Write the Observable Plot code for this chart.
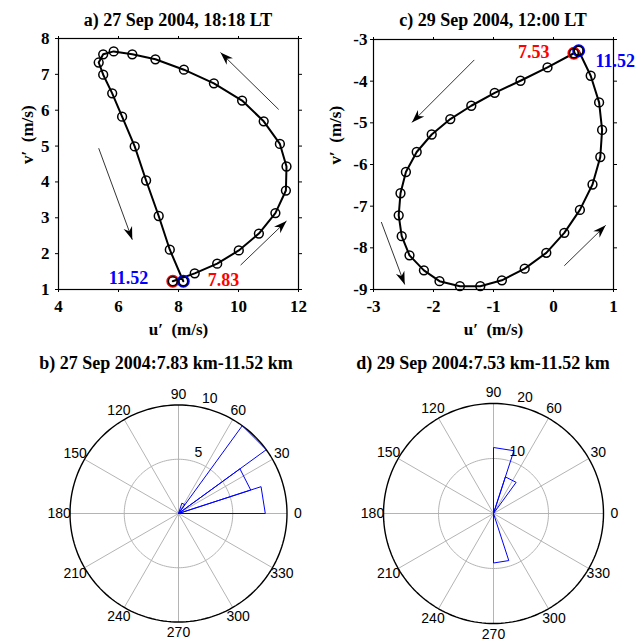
<!DOCTYPE html>
<html><head><meta charset="utf-8">
<script src="https://cdn.jsdelivr.net/npm/d3@7"></script>
<script src="https://cdn.jsdelivr.net/npm/@observablehq/plot@0.6"></script>
<style>
body{margin:0;background:#fff;}
#wrap{position:relative;width:643px;height:641px;overflow:hidden;background:#fff;}
.panel{position:absolute;}
.title{position:absolute;font-family:"Liberation Serif",serif;font-weight:bold;font-size:18px;white-space:nowrap;transform:translate(-50%,-50%);color:#000;}
.hodo [aria-label$="tick label"], .hodo [aria-label$="tick label"] text{font-family:"Liberation Serif",serif !important;font-weight:bold !important;font-size:17px !important;font-variant:normal !important;}
</style></head><body><div id="wrap"></div>
<script>
// ---------- data ----------
const titles = ["a) 27 Sep 2004, 18:18 LT", "c) 29 Sep 2004, 12:00 LT",
                "b) 27 Sep 2004:7.83 km-11.52 km", "d) 29 Sep 2004:7.53 km-11.52 km"];
const xLabel = "u′\u00a0\u00a0(m/s)";
const yLabel = "v′\u00a0\u00a0(m/s)";

// panel a hodograph (27 Sep)
const uA = [7.81, 8.54, 9.29, 10.01, 10.68, 11.23, 11.58, 11.60, 11.38, 10.84, 10.12, 9.18, 8.18, 7.23, 6.46, 5.84, 5.49, 5.34, 5.49, 5.79, 6.12, 6.54, 6.92, 7.34, 7.71, 8.16];
const vA = [1.23, 1.45, 1.72, 2.09, 2.56, 3.13, 3.76, 4.43, 5.06, 5.69, 6.27, 6.75, 7.13, 7.42, 7.56, 7.64, 7.56, 7.33, 6.99, 6.47, 5.82, 4.99, 4.04, 3.05, 2.11, 1.23];
const xTicksA = [4, 6, 8, 10, 12];
const yTicksA = [1, 2, 3, 4, 5, 6, 7, 8];
const arrowsA = [[11.34, 6.02, 9.40, 7.61], [5.34, 4.94, 6.46, 2.39], [10.07, 1.68, 11.60, 2.91]];
const labelsA = [{t: "11.52", u: 6.33, v: 1.32, c: "#0000ff"}, {t: "7.83", u: 9.50, v: 1.27, c: "#ff0000"}];

// panel c hodograph (29 Sep)
const uC = [0.34, -0.10, -0.55, -0.98, -1.37, -1.72, -2.03, -2.28, -2.46, -2.55, -2.58, -2.53, -2.40, -2.16, -1.90, -1.56, -1.22, -0.86, -0.48, -0.12, 0.18, 0.44, 0.65, 0.78, 0.81, 0.76, 0.62, 0.42];
const vC = [-3.33, -3.67, -3.99, -4.28, -4.59, -4.91, -5.28, -5.70, -6.18, -6.69, -7.22, -7.72, -8.18, -8.54, -8.80, -8.92, -8.92, -8.78, -8.50, -8.12, -7.64, -7.09, -6.48, -5.82, -5.17, -4.51, -3.87, -3.27];
const xTicksC = [-3, -2, -1, 0, 1];
const yTicksC = [-9, -8, -7, -6, -5, -4, -3];
const arrowsC = [[-1.32, -3.49, -2.36, -4.99], [-2.87, -7.38, -2.48, -8.88], [0.18, -8.43, 0.87, -7.46]];
const labelsC = [{t: "7.53", u: -0.33, v: -3.31, c: "#ff0000"}, {t: "11.52", u: 1.03, v: -3.53, c: "#0000ff"}];

// rose histograms: counts in 20 bins of 18 degrees
const roseB = [8, 7, 10, 1, 0, 0, 0, 0, 0, 0, 0, 0, 0, 0, 0, 0, 0, 0, 0, 0];
const roseD = [0, 0, 0, 7, 12, 0, 0, 0, 0, 0, 0, 0, 0, 0, 0, 9, 0, 0, 0, 0];
const angleTicks = [0, 30, 60, 90, 120, 150, 180, 210, 240, 270, 300, 330];

// ---------- helpers ----------
const wrap = document.getElementById("wrap");
function place(el, left, top, cls) { el.classList.add("panel"); if (cls) el.classList.add(cls); el.style.left = left + "px"; el.style.top = top + "px"; wrap.appendChild(el); }
function title(text, cx, cy) { const d = document.createElement("div"); d.className = "title"; d.textContent = text; d.style.left = cx + "px"; d.style.top = cy + "px"; wrap.appendChild(d); }

const arrowHead = {draw(ctx) { ctx.moveTo(0, 0); ctx.lineTo(-4.5, 13); ctx.lineTo(0, 9); ctx.lineTo(4.5, 13); ctx.closePath(); }};
const serif = "Liberation Serif, Times New Roman, serif";
const bold = {fontSize: 17, fontWeight: "bold", fontFamily: serif};

function hodo(o) {
  const pts = o.u.map((d, i) => ({u: d, v: o.v[i]}));
  const kx = (o.width - o.ml - o.mr) / (o.xd[1] - o.xd[0]);
  const ky = (o.height - o.mt - o.mb) / (o.yd[1] - o.yd[0]);
  const links = o.arrows.map(a => ({x1: a[0], y1: a[1], x2: a[2], y2: a[3]}));
  const heads = o.arrows.map(a => ({u: a[2], v: a[3], rot: Math.atan2((a[2] - a[0]) * kx, (a[3] - a[1]) * ky) * 180 / Math.PI}));
  return Plot.plot({
    width: o.width, height: o.height,
    marginLeft: o.ml, marginRight: o.mr, marginTop: o.mt, marginBottom: o.mb,
    x: {domain: o.xd}, y: {domain: o.yd},
    style: {fontFamily: serif, fontSize: "17px", fontWeight: "bold", background: "transparent", overflow: "visible", color: "black"},
    marks: [
      Plot.axisX({anchor: "bottom", ticks: o.xt, tickSize: 3, tickPadding: 7, tickFormat: d => String(d), label: null, ...bold}),
      Plot.axisX({anchor: "top", ticks: o.xt, tickSize: 3, tickFormat: () => "", label: null}),
      Plot.axisY({anchor: "left", ticks: o.yt, tickSize: 3, tickPadding: o.yPad, tickFormat: d => String(d), label: null, ...bold}),
      Plot.axisY({anchor: "right", ticks: o.yt, tickSize: 3, tickFormat: () => "", label: null}),
      Plot.frame({stroke: "black", strokeWidth: 1.2}),
      Plot.link(links, {x1: "x1", y1: "y1", x2: "x2", y2: "y2", stroke: "black", strokeWidth: 0.8}),
      Plot.dot(heads, {x: "u", y: "v", rotate: "rot", symbol: arrowHead, r: 5, fill: "black", stroke: "none"}),
      Plot.line(pts, {x: "u", y: "v", stroke: "black", strokeWidth: 2}),
      Plot.dot([pts[0]], {x: "u", y: "v", r: 5.2, stroke: "#ff0000", strokeWidth: 2.6, fill: "none"}),
      Plot.dot([pts[pts.length - 1]], {x: "u", y: "v", r: 5.2, stroke: "#0000ff", strokeWidth: 2.6, fill: "none"}),
      Plot.dot(pts, {x: "u", y: "v", r: 4.4, stroke: "black", strokeWidth: 1.5, fill: "none"}),
      Plot.text(o.labels, {x: "u", y: "v", text: "t", fill: "c", ...bold, fontSize: 18}),
      Plot.text([xLabel], {frameAnchor: "bottom", dy: 45, ...bold}),
      Plot.text([yLabel], {frameAnchor: "left", dx: -o.ylx, rotate: -90, ...bold})
    ]
  });
}

function rose(o) {
  const rmax = o.rmax, rinc = o.rinc, rad = Math.PI / 180;
  const circle = (r) => d3.range(0, 361, 2).map(a => ({x: r * Math.cos(a * rad), y: r * Math.sin(a * rad)}));
  const inner = d3.range(rinc, rmax, rinc).flatMap((r, k) => circle(r).map(p => ({...p, k})));
  const spokes = angleTicks.filter(a => a < 180).map(a => ({x1: -rmax * Math.cos(a * rad), y1: -rmax * Math.sin(a * rad), x2: rmax * Math.cos(a * rad), y2: rmax * Math.sin(a * rad)}));
  const alabels = angleTicks.map(a => ({x: 1.1 * rmax * Math.cos(a * rad), y: 1.1 * rmax * Math.sin(a * rad), t: String(a)}));
  const rlabels = d3.range(rinc, rmax + 1e-9, rinc).map(r => ({x: (r + rinc / 20) * Math.cos(82 * rad), y: (r + rinc / 20) * Math.sin(82 * rad), t: String(r)}));
  const step = 360 / o.bins.length;
  const wedges = o.bins.flatMap((c, i) => c > 0 ? [
    {x: 0, y: 0, i},
    {x: c * Math.cos(i * step * rad), y: c * Math.sin(i * step * rad), i},
    {x: c * Math.cos((i + 1) * step * rad), y: c * Math.sin((i + 1) * step * rad), i},
    {x: 0, y: 0, i}] : []);
  return Plot.plot({
    width: o.width, height: o.height, axis: null,
    x: {domain: [-rmax, rmax], range: [o.cx - o.R, o.cx + o.R]},
    y: {domain: [-rmax, rmax], range: [o.cy + o.R, o.cy - o.R]},
    style: {fontFamily: "Liberation Sans, Arial, sans-serif", fontSize: "14px", background: "transparent", overflow: "visible"},
    marks: [
      Plot.link(spokes, {x1: "x1", y1: "y1", x2: "x2", y2: "y2", stroke: "#b4b4b4", strokeWidth: 1}),
      Plot.line(inner, {x: "x", y: "y", z: "k", stroke: "#b4b4b4", strokeWidth: 1}),
      Plot.line(circle(rmax), {x: "x", y: "y", stroke: "black", strokeWidth: 1.4}),
      Plot.line(wedges, {x: "x", y: "y", z: "i", stroke: "#0000ff", strokeWidth: 1}),
      Plot.text(alabels, {x: "x", y: "y", text: "t", fontSize: 14, fill: "black"}),
      Plot.text(rlabels, {x: "x", y: "y", text: "t", fontSize: 14, textAnchor: "start", lineAnchor: "bottom", dx: 8, fill: "black"})
    ]
  });
}

// ---------- panels ----------
place(hodo({u: uA, v: vA, xd: [4, 12], yd: [1, 8], xt: xTicksA, yt: yTicksA, width: 320, height: 345, ml: 58, mr: 22, mt: 38, mb: 56, yPad: 6, ylx: 31, arrows: arrowsA, labels: labelsA}), 0, 0, "hodo");
place(hodo({u: uC, v: vC, xd: [-3, 1], yd: [-9, -3], xt: xTicksC, yt: yTicksC, width: 323, height: 345, ml: 53, mr: 30, mt: 39, mb: 56, yPad: 3, ylx: 38, arrows: arrowsC, labels: labelsC}), 320, 0, "hodo");
place(rose({bins: roseB, rmax: 10, rinc: 5, width: 320, height: 261, cx: 178, cy: 133, R: 108.5}), 0, 380);
place(rose({bins: roseD, rmax: 20, rinc: 10, width: 323, height: 261, cx: 173, cy: 133, R: 110}), 320, 380);

title(titles[0], 178, 20);
title(titles[1], 493, 20);
title(titles[2], 166, 363);
title(titles[3], 483, 363);
</script></body></html>
